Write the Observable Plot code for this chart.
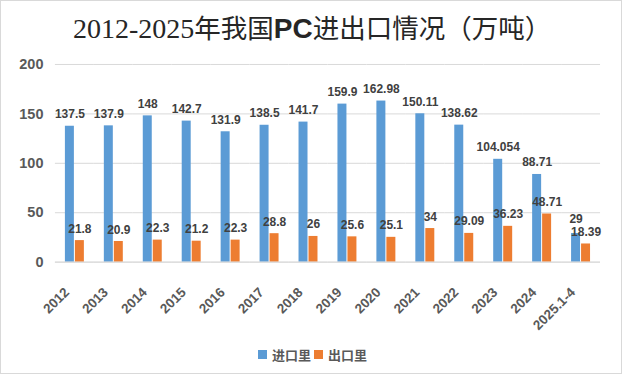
<!DOCTYPE html>
<html>
<head>
<meta charset="utf-8">
<script src="https://cdn.jsdelivr.net/npm/d3@7"></script>
<script src="https://cdn.jsdelivr.net/npm/@observablehq/plot@0.6"></script>
<style>
  html, body { margin: 0; padding: 0; background: #fff; }
  #wrap { position: relative; width: 620px; height: 372px; border: 1px solid #d9d9d9; overflow: hidden; background: #fff; }
  #title { position: absolute; left: 72px; top: 8px; height: 36px; line-height: 36px; color: #262626; white-space: nowrap; display: flex; align-items: baseline; }
  #title .num { font-family: "Liberation Serif", serif; font-size: 28px; }
  #title .pc { font-family: "Liberation Sans", sans-serif; font-weight: bold; font-size: 28px; }
  #title .cjk { font-family: "Noto Sans CJK SC", sans-serif; font-size: 26.5px; }
  #chart { position: absolute; left: -1px; top: 44px; }
  #legend { position: absolute; left: 257px; top: 344px; font-family: "Noto Sans CJK SC", sans-serif; font-size: 13px; font-weight: bold; color: #595959; display: flex; align-items: center; white-space: nowrap; }
  #legend .sw { display: inline-block; width: 9px; height: 9px; margin-right: 5px; }
  #legend .item { display: flex; align-items: center; margin-right: 3px; }
</style>
</head>
<body>
<div id="wrap">
  <div id="title"><span class="num">2012-2025</span><span class="cjk">年我国</span><span class="pc">PC</span><span class="cjk">进出口情况（万吨）</span></div>
  <div id="chart"></div>
  <div id="legend"></div>
</div>
<script>
const years = ["2012","2013","2014","2015","2016","2017","2018","2019","2020","2021","2022","2023","2024","2025.1-4"];
const seriesNames = ["进口里", "出口里"];
const importValues = [137.5, 137.9, 148, 142.7, 131.9, 138.5, 141.7, 159.9, 162.98, 150.11, 138.62, 104.054, 88.71, 29];
const exportValues = [21.8, 20.9, 22.3, 21.2, 22.3, 28.8, 26, 25.6, 25.1, 34, 29.09, 36.23, 48.71, 18.39];
const yTicks = [0, 50, 100, 150, 200];
const colors = ["#5b9bd5", "#ed7d31"];

const data = [];
years.forEach((y, i) => {
  data.push({year: y, series: seriesNames[0], value: importValues[i]});
  data.push({year: y, series: seriesNames[1], value: exportValues[i]});
});
const lastYear = years[years.length - 1];
const isRaised = d => d.year === lastYear && d.series === seriesNames[0];

const labelStyle = {fx: "year", x: "series", y: "value", text: d => String(d.value), lineAnchor: "bottom", fontSize: 12, fontWeight: "bold", fill: "#404040"};

const chart = Plot.plot({
  width: 622,
  height: 290,
  marginLeft: 48,
  marginRight: 15,
  marginTop: 19,
  marginBottom: 73,
  style: {fontFamily: "'Liberation Sans', Arial, sans-serif", background: "transparent"},
  fx: {domain: years, padding: 0, label: null},
  x: {domain: seriesNames, paddingInner: 0.12, paddingOuter: 0.95, axis: null},
  y: {domain: [0, 200], label: null},
  color: {domain: seriesNames, range: colors},
  marks: [
    Plot.gridY(yTicks, {stroke: "#d9d9d9", strokeOpacity: 1, strokeWidth: 1}),
    Plot.axisY(yTicks, {tickSize: 0, tickPadding: 12, fontSize: 14.5, fontWeight: "bold", fill: "#595959", label: null}),
    Plot.barY(data, {fx: "year", x: "series", y: "value", fill: "series"}),
    Plot.ruleY([0], {stroke: "#d9d9d9", strokeWidth: 1}),
    Plot.text(data.filter(d => !isRaised(d)), {...labelStyle, dy: -8}),
    Plot.text(data.filter(isRaised), {...labelStyle, dy: -11}),
    Plot.axisFx({anchor: "bottom", tickSize: 0, tickPadding: 28, dx: -8, tickRotate: -45, fontSize: 13.5, fontWeight: "bold", fill: "#595959", label: null})
  ]
});
document.getElementById("chart").appendChild(chart);

const legend = document.getElementById("legend");
seriesNames.forEach((n, i) => {
  const item = document.createElement("span");
  item.className = "item";
  const sw = document.createElement("span");
  sw.className = "sw";
  sw.style.background = colors[i];
  const t = document.createElement("span");
  t.textContent = n;
  item.appendChild(sw);
  item.appendChild(t);
  legend.appendChild(item);
});
</script>
</body>
</html>
